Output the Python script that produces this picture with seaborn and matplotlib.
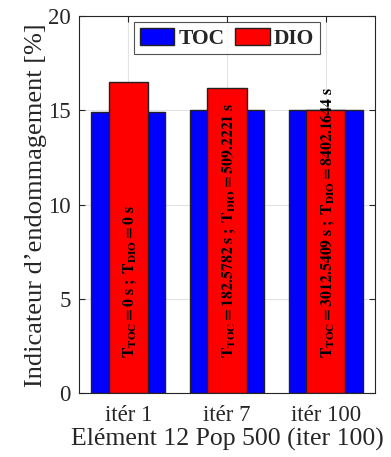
import numpy as np
import pandas as pd
import seaborn as sns
import matplotlib
matplotlib.use("Agg")
from matplotlib import pyplot as plt
from matplotlib.patches import Patch

# donnees
iters = ["itér 1", "itér 7", "itér 100"]
toc = [14.9, 15.0, 15.0]
dio = [16.5, 16.17, 15.0]
t_toc = ["0", "182.5782", "3012.5409"]
t_dio = ["0", "509.2221", "8402.1644"]

sns.set_style("whitegrid")
plt.rcParams["font.family"] = ["Liberation Serif", "DejaVu Serif"]
plt.rcParams["mathtext.fontset"] = "stix"

fig = plt.figure(figsize=(3.91, 4.57), dpi=100)
ax = fig.add_axes([0.202, 0.139, 0.757, 0.826])

df = pd.DataFrame({"iter": iters, "TOC": toc, "DIO": dio})
sns.barplot(data=df, x="iter", y="TOC", color="#0000ff", saturation=1,
            width=0.75, edgecolor="#222222", linewidth=1, ax=ax, zorder=2)
sns.barplot(data=df, x="iter", y="DIO", color="#ff0000", saturation=1,
            width=0.4, edgecolor="#222222", linewidth=1, ax=ax, zorder=3)

# textes verticaux dans les barres
for i in range(len(iters)):
    s = (r"$\mathbf{T_{TOC}{=}%s\ s\ ;\ T_{DIO}{=}%s\ s}$"
         % (t_toc[i], t_dio[i]))
    ax.text(i + 0.02, 1.9, s, rotation=90, rotation_mode="anchor",
            ha="left", va="center", fontsize=11.3, color="black", zorder=5)

ax.set_xlim(-0.5, 2.5)
ax.set_ylim(0, 20)
ax.set_yticks([0, 5, 10, 15, 20])
ax.set_xlabel("Elément 12 Pop 500 (iter 100)", fontsize=18.5, color="#262626",
              labelpad=2)
ax.set_ylabel("Indicateur d\u2019endommagement [%]", fontsize=19, color="#262626",
              labelpad=1)
ax.tick_params(axis="both", labelsize=16.5, colors="#262626", direction="in",
               length=4, top=True, right=True, bottom=True, left=True)
ax.tick_params(axis="x", pad=8)
ax.tick_params(axis="y", pad=6)
ax.grid(True, color="#e3e3e3", linewidth=0.8, zorder=0)
ax.set_axisbelow(True)
for sp in ax.spines.values():
    sp.set_color("#262626")
    sp.set_linewidth(0.8)

handles = [Patch(facecolor="#0000ff", edgecolor="#222222", label="TOC"),
           Patch(facecolor="#ff0000", edgecolor="#222222", label="DIO")]
leg = ax.legend(handles=handles, loc="upper center", ncol=2,
                prop={"family": "Liberation Serif", "weight": "bold", "size": 15.5},
                frameon=True, fancybox=False, edgecolor="#262626",
                handlelength=1.6, handleheight=0.85, columnspacing=0.5,
                handletextpad=0.2, borderpad=0.25, borderaxespad=0.3,
                bbox_to_anchor=(0.5, 1.0))
leg.get_frame().set_linewidth(0.8)

fig.savefig("out.png", dpi=100)
